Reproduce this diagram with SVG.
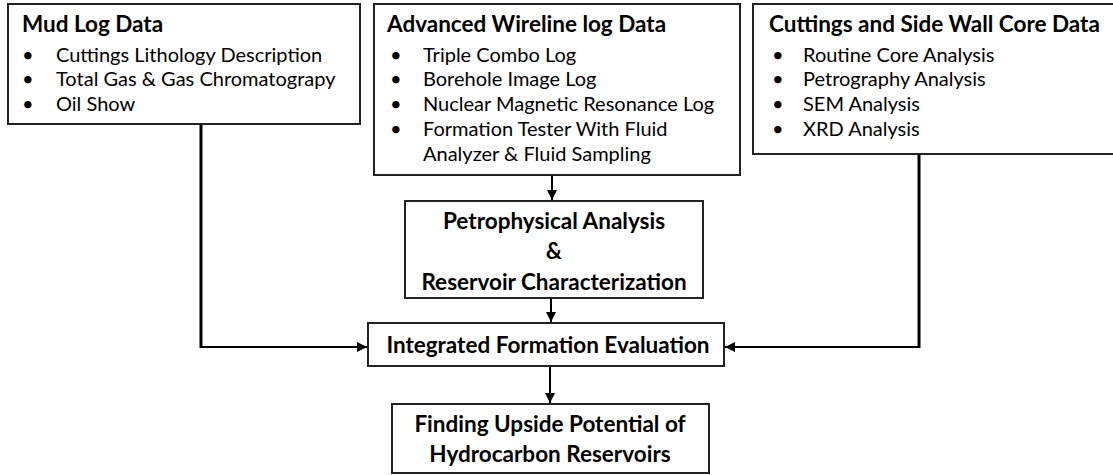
<svg xmlns="http://www.w3.org/2000/svg" width="1113" height="475" viewBox="0 0 1113 475">
<defs>
<style>
.box{fill:#fff;stroke:#222;stroke-width:2}
.t{font-family:Lato,"Open Sans",sans-serif;font-size:20px;fill:#000}
.h{font-family:Lato,"Open Sans",sans-serif;font-size:22.5px;font-weight:bold;fill:#000}
.c{text-anchor:middle}
.ln{stroke:#000;stroke-width:2;fill:none}
</style>
<marker id="ah" viewBox="0 0 10 10" refX="10" refY="5" markerWidth="10" markerHeight="10" markerUnits="userSpaceOnUse" orient="auto">
<path d="M0,0 L10,5 L0,10 z" fill="#000"/>
</marker>
</defs>
<rect width="1113" height="475" fill="#fff"/>
<g id="connectors">
<line class="ln" x1="552" y1="175" x2="552" y2="200" marker-end="url(#ah)"/>
<line class="ln" x1="551" y1="298" x2="551" y2="322" marker-end="url(#ah)"/>
<line class="ln" x1="550" y1="366" x2="550" y2="403" marker-end="url(#ah)"/>
<polyline class="ln" points="201,124 201,348" style="stroke-width:3"/>
<line class="ln" x1="200" y1="347" x2="367" y2="347" marker-end="url(#ah)"/>
<polyline class="ln" points="919,154 919,348" style="stroke-width:3"/>
<line class="ln" x1="920" y1="347" x2="725" y2="347" marker-end="url(#ah)"/>
</g>
<g id="mud">
<rect class="box" x="8" y="4" width="352" height="120"/>
<text class="h" x="22" y="32">Mud Log Data</text>
<text class="t" x="22" y="62">•</text><text class="t" x="56" y="62">Cuttings Lithology Description</text>
<text class="t" x="22" y="86">•</text><text class="t" x="56" y="86">Total Gas &amp; Gas Chromatograpy</text>
<text class="t" x="22" y="111">•</text><text class="t" x="56" y="111">Oil Show</text>
</g>
<g id="wireline">
<rect class="box" x="374" y="4" width="366" height="171"/>
<text class="h" x="387" y="32">Advanced Wireline log Data</text>
<text class="t" x="390" y="62">•</text><text class="t" x="423" y="62">Triple Combo Log</text>
<text class="t" x="390" y="86">•</text><text class="t" x="423" y="86">Borehole Image Log</text>
<text class="t" x="390" y="111">•</text><text class="t" x="423" y="111">Nuclear Magnetic Resonance Log</text>
<text class="t" x="390" y="136">•</text><text class="t" x="423" y="136">Formation Tester With Fluid</text>
<text class="t" x="423" y="161">Analyzer &amp; Fluid Sampling</text>
</g>
<g id="core">
<rect class="box" x="753" y="4" width="370" height="150"/>
<text class="h" x="769" y="32">Cuttings and Side Wall Core Data</text>
<text class="t" x="772" y="62">•</text><text class="t" x="803" y="62">Routine Core Analysis</text>
<text class="t" x="772" y="86">•</text><text class="t" x="803" y="86">Petrography Analysis</text>
<text class="t" x="772" y="111">•</text><text class="t" x="803" y="111">SEM Analysis</text>
<text class="t" x="772" y="136">•</text><text class="t" x="803" y="136">XRD Analysis</text>
</g>
<g id="petro">
<rect class="box" x="405" y="201" width="298" height="97"/>
<text class="h c" x="554" y="229">Petrophysical Analysis</text>
<text class="h c" x="554" y="259">&amp;</text>
<text class="h c" x="554" y="290">Reservoir Characterization</text>
</g>
<g id="integrated">
<rect class="box" x="368" y="323" width="356" height="43"/>
<text class="h c" x="548" y="353">Integrated Formation Evaluation</text>
</g>
<g id="finding">
<rect class="box" x="392" y="404" width="317" height="69"/>
<text class="h c" x="550" y="432">Finding Upside Potential of</text>
<text class="h c" x="550" y="462">Hydrocarbon Reservoirs</text>
</g>
</svg>
